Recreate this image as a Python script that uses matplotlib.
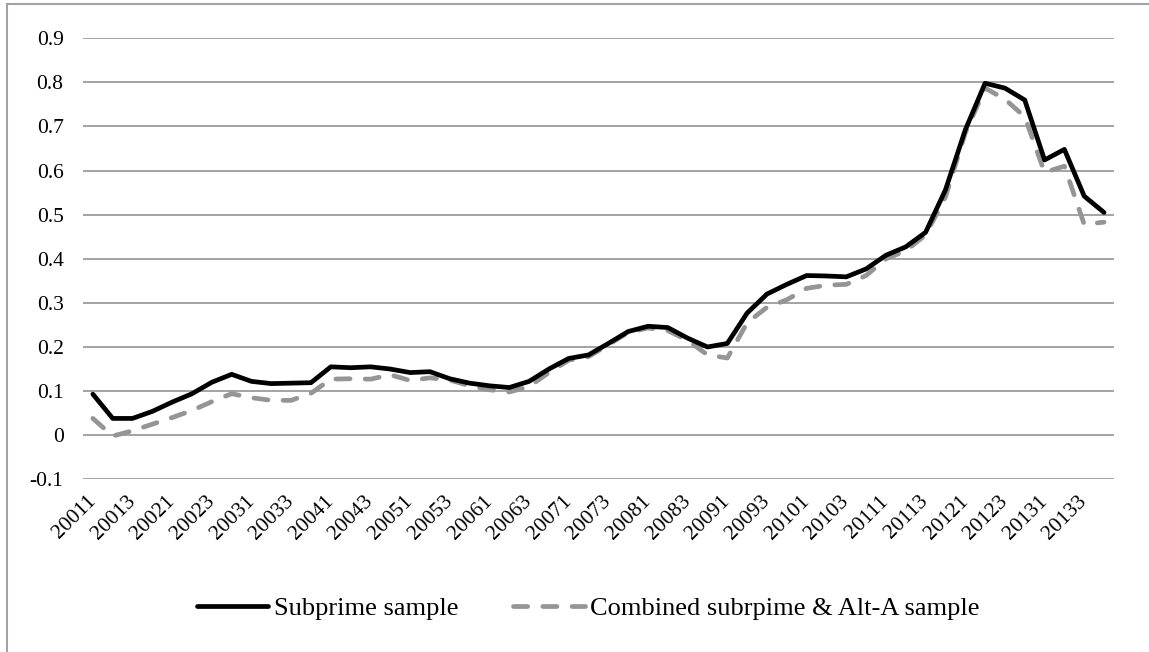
import matplotlib
matplotlib.use('Agg')
from matplotlib import pyplot as plt
from matplotlib.lines import Line2D

plt.rcParams['font.family'] = ['Liberation Serif', 'DejaVu Serif']

quarters = ['20011', '20012', '20013', '20014', '20021', '20022', '20023', '20024',
            '20031', '20032', '20033', '20034', '20041', '20042', '20043', '20044',
            '20051', '20052', '20053', '20054', '20061', '20062', '20063', '20064',
            '20071', '20072', '20073', '20074', '20081', '20082', '20083', '20084',
            '20091', '20092', '20093', '20094', '20101', '20102', '20103', '20104',
            '20111', '20112', '20113', '20114', '20121', '20122', '20123', '20124',
            '20131', '20132', '20133', '20134']

subprime = [0.093, 0.038, 0.038, 0.054, 0.075, 0.094, 0.120, 0.138, 0.122, 0.117,
            0.118, 0.119, 0.155, 0.153, 0.155, 0.150, 0.142, 0.144, 0.128, 0.118,
            0.112, 0.108, 0.122, 0.150, 0.174, 0.182, 0.208, 0.235, 0.247, 0.244,
            0.220, 0.200, 0.208, 0.277, 0.320, 0.342, 0.362, 0.361, 0.359, 0.377,
            0.408, 0.427, 0.460, 0.556, 0.692, 0.798, 0.787, 0.760, 0.624, 0.648,
            0.542, 0.505]

combined = [0.038, -0.002, 0.010, 0.025, 0.040, 0.056, 0.076, 0.094, 0.085, 0.079,
            0.079, 0.095, 0.127, 0.128, 0.127, 0.137, 0.124, 0.130, 0.125, 0.112,
            0.103, 0.098, 0.110, 0.142, 0.170, 0.178, 0.205, 0.233, 0.243, 0.237,
            0.215, 0.182, 0.175, 0.255, 0.290, 0.307, 0.333, 0.340, 0.342, 0.362,
            0.400, 0.418, 0.454, 0.540, 0.685, 0.787, 0.762, 0.722, 0.596, 0.610,
            0.478, 0.483]

yticks = [-0.1, 0, 0.1, 0.2, 0.3, 0.4, 0.5, 0.6, 0.7, 0.8, 0.9]
ylabels = ['-0.1', '0', '0.1', '0.2', '0.3', '0.4', '0.5', '0.6', '0.7', '0.8', '0.9']

grid_c = '#a3a3a3'
fig = plt.figure(figsize=(11.49, 6.52), dpi=100)
ax = fig.add_axes([0.0722, 0.2649, 0.8973, 0.6764])

x = list(range(len(quarters)))
ax.plot(x, subprime, color='black', lw=3.4, solid_capstyle='round',
        solid_joinstyle='round', label='Subprime sample', zorder=3)
ax.plot(x, combined, color='#959595', lw=3.4, dashes=(3.0, 3.2),
        dash_capstyle='round', dash_joinstyle='round',
        label='Combined subrpime & Alt-A sample', zorder=2)

ax.set_xlim(-0.5, len(quarters) - 0.5)
ax.set_ylim(-0.1, 0.9)
ax.set_yticks(yticks)
ax.set_yticklabels(ylabels)
ax.set_xticks(x[::2])
ax.set_xticklabels(quarters[::2], rotation=45, ha='right', va='center',
                   rotation_mode='anchor')
ax.tick_params(axis='y', length=0, pad=14, labelsize=15.5)
ax.tick_params(axis='x', length=0, pad=14, labelsize=15.5)
ax.grid(axis='y', color=grid_c, lw=1.4)
ax.set_axisbelow(True)
for s in ax.spines.values():
    s.set_visible(False)

fig.legend(loc='center', bbox_to_anchor=(0.512, 0.067), ncol=2, frameon=False,
           fontsize=19, handlelength=2.7, handletextpad=0.2, columnspacing=2.1)

# outer chart border (only left and top visible)
fig.add_artist(Line2D([7 / 1149, 7 / 1149], [0, 1 - 4 / 652], color=grid_c, lw=1.5))
fig.add_artist(Line2D([7 / 1149, 1], [1 - 4 / 652, 1 - 4 / 652], color=grid_c, lw=1.5))

fig.savefig('out.png', dpi=100)
